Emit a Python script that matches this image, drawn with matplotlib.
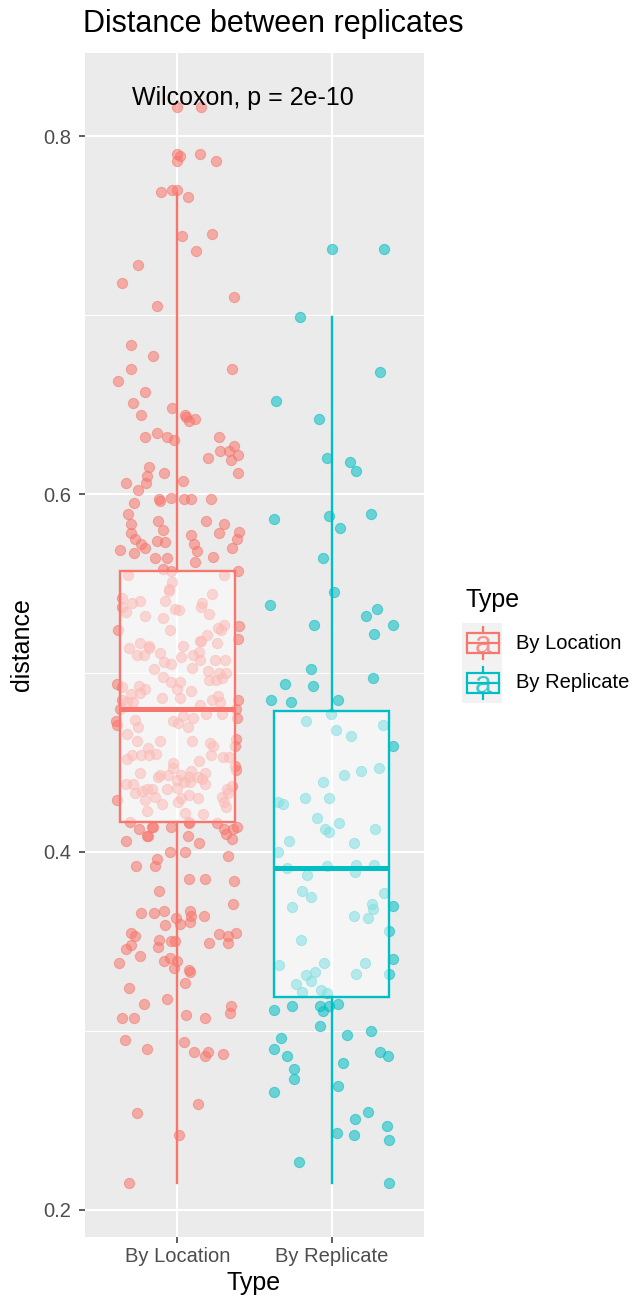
import matplotlib
matplotlib.use('Agg')
import matplotlib.pyplot as plt
from matplotlib.patches import Rectangle

plt.rcParams['font.family'] = ['Liberation Sans', 'DejaVu Sans']

W, H = 633, 1301

types = ['By Location', 'By Replicate']
colors = ['#F8766D', '#00BFC4']
p_label = 'Wilcoxon, p = 2e-10'

# jittered points (x = jittered category position)
loc_x = [
    1.00, 1.155, 1.00, 1.015, 0.995, 1.146, 1.247, 0.890, 0.963, 1.00, 1.066, 1.028, 1.224, 1.118, 0.742, 0.639, 1.370, 0.869,
    0.699, 0.839, 0.699, 1.355, 0.613, 0.792, 0.712, 0.963, 1.052, 1.058, 1.075, 1.114, 0.761, 0.792, 0.866, 0.934, 0.979, 1.269, 1.370, 1.273, 1.334, 1.392, 1.195,
    1.350, 1.394, 0.815, 0.805, 0.912, 0.665, 0.795, 1.037, 0.744, 0.718, 0.882, 0.886, 0.957, 1.043, 1.086, 1.219, 0.677, 0.873, 1.185,
    0.699, 0.905, 0.699, 0.725, 0.866, 0.916, 0.761, 0.789, 0.628, 0.716, 0.852, 0.935, 0.905, 0.961, 1.305, 1.398, 1.385, 1.271, 1.090, 1.108, 1.129, 1.357, 1.232, 1.116, 1.392,
    0.677, 1.305, 0.963, 0.942, 0.946, 1.226, 0.643, 0.639, 0.663, 0.708, 0.759, 0.916, 1.157, 1.153, 0.987, 1.011, 0.789, 0.903, 1.205, 0.617,
    0.953, 1.305, 1.263, 1.284, 1.398, 1.392, 1.194, 1.155, 1.144, 1.254, 0.759, 0.815, 0.817, 0.688, 0.735, 0.783, 0.886, 1.034, 1.026, 1.101,
    1.137, 1.148, 1.245, 1.308, 0.914, 0.959, 0.850, 1.095, 1.198, 1.271, 1.316, 0.905, 0.955, 1.017, 1.202, 1.247, 1.288, 0.605, 0.639, 0.748,
    0.792, 0.757, 0.998, 1.086, 0.697, 0.897, 1.017, 0.637, 0.673, 0.714, 1.226, 1.265, 1.279, 1.392, 0.628, 1.144, 1.383,
    0.602, 0.606, 0.725, 0.746, 0.970, 1.005, 1.034, 1.101, 1.183, 1.290, 1.385, 1.069, 0.673, 0.737, 0.888, 1.097, 1.208, 1.232, 1.383, 1.376,
    0.808, 0.858, 0.703, 0.673, 0.761, 0.815, 1.140, 1.215, 1.295, 1.337, 0.968, 0.974, 1.374, 1.381, 0.759, 0.886, 0.875, 0.940, 1.021, 1.086,
    1.073, 1.181, 1.135, 1.159, 1.181, 0.998, 1.043, 1.082, 0.663, 0.712, 0.995, 0.935, 1.353, 1.323, 1.331, 0.725, 0.768, 0.800, 0.832, 0.854,
    0.789, 1.077, 1.134, 1.026, 1.005, 0.606, 1.288, 1.305, 1.318, 0.899, 0.802, 1.050, 1.166, 0.695,
    0.750, 0.832, 0.843, 0.811, 0.800, 0.955, 1.077, 1.075, 1.254, 1.305, 1.316, 1.359, 1.387, 1.353, 0.666, 1.066, 1.140, 0.950, 1.050, 1.325,
    0.866, 0.854, 0.734, 1.075, 1.179, 1.370, 0.879, 1.361, 0.766, 0.845, 0.914, 1.079, 1.090, 1.082, 1.170, 0.992, 1.019, 0.918, 0.701, 0.723,
    1.269, 1.327, 1.381, 0.665, 0.701, 0.757, 0.621, 0.877, 0.873, 0.955, 0.985, 0.910, 0.953, 1.000, 0.979, 1.075, 1.079, 1.202, 1.327, 1.050,
    0.688, 0.935, 0.785, 1.348, 1.344, 0.639, 0.721, 1.054, 1.181, 0.660, 0.800, 1.041, 1.110, 1.181, 1.200, 1.295, 1.135, 0.737, 1.013, 0.684,
]
loc_y = [
    0.816, 0.816, 0.790, 0.789, 0.786, 0.790, 0.786, 0.769, 0.770, 0.770, 0.766, 0.744, 0.745, 0.736, 0.728, 0.718, 0.710, 0.705,
    0.683, 0.677, 0.670, 0.670, 0.663, 0.657, 0.651, 0.648, 0.644, 0.643, 0.641, 0.642, 0.644, 0.632, 0.634, 0.632, 0.630, 0.632, 0.627, 0.624, 0.624, 0.622, 0.620,
    0.619, 0.612, 0.615, 0.610, 0.612, 0.606, 0.606, 0.607, 0.602, 0.595, 0.597, 0.596, 0.598, 0.597, 0.597, 0.597, 0.589, 0.585, 0.585,
    0.583, 0.580, 0.578, 0.575, 0.574, 0.573, 0.572, 0.570, 0.569, 0.567, 0.564, 0.564, 0.558, 0.557, 0.583, 0.579, 0.575, 0.578, 0.577, 0.572, 0.568, 0.570, 0.565, 0.562, 0.557,
    0.555, 0.555, 0.551, 0.547, 0.546, 0.544, 0.542, 0.537, 0.534, 0.539, 0.540, 0.540, 0.539, 0.537, 0.536, 0.535, 0.532, 0.531, 0.533, 0.524,
    0.524, 0.527, 0.525, 0.524, 0.526, 0.519, 0.521, 0.518, 0.518, 0.517, 0.517, 0.515, 0.514, 0.514, 0.510, 0.510, 0.511, 0.515, 0.509, 0.510,
    0.512, 0.507, 0.507, 0.507, 0.506, 0.505, 0.502, 0.503, 0.501, 0.500, 0.500, 0.498, 0.495, 0.495, 0.496, 0.496, 0.497, 0.494, 0.492, 0.493,
    0.491, 0.489, 0.491, 0.490, 0.488, 0.486, 0.486, 0.485, 0.484, 0.484, 0.485, 0.487, 0.484, 0.485, 0.480, 0.482, 0.480,
    0.473, 0.471, 0.474, 0.470, 0.473, 0.472, 0.476, 0.475, 0.477, 0.477, 0.475, 0.470, 0.466, 0.462, 0.462, 0.462, 0.461, 0.459, 0.463, 0.459,
    0.458, 0.455, 0.454, 0.452, 0.454, 0.454, 0.451, 0.454, 0.453, 0.453, 0.450, 0.447, 0.448, 0.446, 0.444, 0.443, 0.442, 0.443, 0.443, 0.445,
    0.442, 0.444, 0.442, 0.441, 0.438, 0.440, 0.439, 0.439, 0.438, 0.438, 0.436, 0.435, 0.437, 0.435, 0.433, 0.433, 0.434, 0.435, 0.435, 0.431,
    0.429, 0.432, 0.430, 0.430, 0.428, 0.429, 0.431, 0.428, 0.425, 0.427, 0.423, 0.422, 0.421, 0.417,
    0.413, 0.414, 0.414, 0.409, 0.409, 0.414, 0.417, 0.416, 0.416, 0.413, 0.410, 0.413, 0.414, 0.407, 0.406, 0.409, 0.405, 0.400, 0.400, 0.398,
    0.396, 0.392, 0.392, 0.385, 0.385, 0.384, 0.378, 0.371, 0.366, 0.366, 0.367, 0.367, 0.364, 0.361, 0.364, 0.363, 0.360, 0.359, 0.355, 0.353,
    0.354, 0.353, 0.355, 0.346, 0.348, 0.342, 0.338, 0.351, 0.347, 0.350, 0.350, 0.339, 0.341, 0.339, 0.335, 0.334, 0.333, 0.349, 0.349, 0.327,
    0.324, 0.318, 0.315, 0.314, 0.310, 0.307, 0.307, 0.309, 0.307, 0.295, 0.290, 0.294, 0.288, 0.286, 0.288, 0.287, 0.259, 0.254, 0.242, 0.215,
]

rep_x = [
    2.002, 2.342, 1.795, 2.314, 1.641, 1.918, 1.968, 2.123, 2.157, 1.624,
    1.983, 2.258, 2.058, 1.946, 2.017, 1.600, 1.884, 2.297, 2.224, 2.402,
    2.277, 1.865, 1.697, 1.877, 2.269, 1.608, 1.735, 2.039, 1.998, 1.832,
    2.028, 2.127, 2.337, 2.402, 2.079, 2.189, 2.305, 1.944, 1.654, 1.686,
    1.828, 1.981, 1.908, 1.955, 1.983, 2.050, 2.284, 1.725, 2.144, 1.654,
    1.710, 1.970, 2.157, 2.150, 2.275, 1.839, 1.811, 1.865, 2.340, 1.744,
    2.265, 2.266, 2.234, 2.144, 2.400, 2.370, 1.800, 1.660, 1.950, 2.219,
    2.400, 2.161, 2.372, 1.834, 1.865, 1.890, 1.772, 1.811, 1.929, 1.968,
    1.624, 1.742, 1.927, 1.983, 2.045, 1.942, 1.927, 2.099, 2.256, 1.673,
    1.628, 1.708, 2.314, 2.366, 1.759, 2.075, 1.755, 1.624, 2.045, 2.239,
    2.150, 2.363, 2.037, 2.146, 2.372, 1.792, 2.376,
]
rep_y = [
    0.737, 0.737, 0.699, 0.668, 0.652, 0.642, 0.620, 0.618, 0.613, 0.586,
    0.588, 0.589, 0.581, 0.564, 0.545, 0.538, 0.527, 0.536, 0.532, 0.527,
    0.522, 0.502, 0.494, 0.493, 0.497, 0.485, 0.484, 0.485, 0.477, 0.473,
    0.468, 0.465, 0.471, 0.459, 0.443, 0.445, 0.447, 0.439, 0.428, 0.427,
    0.430, 0.430, 0.419, 0.413, 0.411, 0.416, 0.413, 0.406, 0.405, 0.400,
    0.391, 0.392, 0.393, 0.389, 0.393, 0.387, 0.378, 0.375, 0.377, 0.369,
    0.371, 0.368, 0.363, 0.364, 0.370, 0.356, 0.351, 0.337, 0.338, 0.338,
    0.340, 0.332, 0.332, 0.331, 0.328, 0.333, 0.326, 0.322, 0.323, 0.321,
    0.312, 0.314, 0.314, 0.314, 0.315, 0.311, 0.303, 0.298, 0.300, 0.296,
    0.290, 0.286, 0.288, 0.286, 0.279, 0.282, 0.273, 0.266, 0.269, 0.255,
    0.251, 0.247, 0.243, 0.242, 0.239, 0.227, 0.215,
]

# box statistics
box_q1 = [0.417, 0.319]
box_med = [0.480, 0.391]
box_q3 = [0.557, 0.479]
whis_lo = [0.215, 0.215]
whis_hi = [0.768, 0.699]


def fx(px):
    return px / W


def fy(py):
    return 1 - py / H


fig = plt.figure(figsize=(W / 100, H / 100), dpi=100)
ax = fig.add_axes([fx(85), fy(1237), (424 - 85) / W, (1237 - 53) / H])
ax.set_facecolor('#EBEBEB')
for s in ax.spines.values():
    s.set_visible(False)

ax.scatter(loc_x, loc_y, s=54, color=colors[0], alpha=0.55, linewidths=0.8,
           edgecolors=colors[0], zorder=2)
ax.scatter(rep_x, rep_y, s=54, color=colors[1], alpha=0.55, linewidths=0.8,
           edgecolors=colors[1], zorder=2)

stats = []
for i in range(2):
    stats.append(dict(med=box_med[i], q1=box_q1[i], q3=box_q3[i],
                      whislo=whis_lo[i], whishi=whis_hi[i], fliers=[], label=types[i]))
bp = ax.bxp(stats, positions=[1, 2], widths=0.75, patch_artist=True,
            showcaps=False, showfliers=False, manage_ticks=False, zorder=3)
for i, c in enumerate(colors):
    bp['boxes'][i].set(facecolor=(1, 1, 1, 0.5), edgecolor=c, linewidth=1.7, zorder=3)
    bp['medians'][i].set(color=c, linewidth=3.6, solid_capstyle='butt', zorder=4)
    for w in bp['whiskers'][2 * i:2 * i + 2]:
        w.set(color=c, linewidth=1.7, zorder=3)

ax.text(0.703, 0.821, p_label, fontsize=18, ha='left', va='center', zorder=5)

ax.set_xlim(0.4, 2.6)
ax.set_ylim(0.1849, 0.8464)
ax.set_xticks([1, 2])
ax.set_xticklabels(types)
ax.set_yticks([0.2, 0.4, 0.6, 0.8])
ax.set_yticklabels(['0.2', '0.4', '0.6', '0.8'])
ax.set_yticks([0.3, 0.5, 0.7], minor=True)
ax.set_axisbelow(True)
ax.grid(which='major', color='white', linewidth=1.5)
ax.grid(which='minor', axis='y', color='white', linewidth=0.75)
ax.tick_params(which='major', length=4, width=1.1, color='#333333',
               labelcolor='#4D4D4D', labelsize=14.5, pad=3)
ax.tick_params(axis='y', which='major', pad=6)
ax.tick_params(which='minor', length=0)

fig.text(fx(83), fy(24), 'Distance between replicates', fontsize=22,
         ha='left', va='center')
fig.text(fx(22), fy(645), 'distance', fontsize=18, rotation=90,
         ha='center', va='center')
fig.text(fx(254), fy(1283), 'Type', fontsize=18, ha='center', va='center')

# legend
fig.text(fx(465), fy(600), 'Type', fontsize=18, ha='left', va='center')
lax = fig.add_axes([fx(462), fy(703), 40 / W, 80 / H])
lax.set_xlim(0, 40)
lax.set_ylim(80, 0)
lax.axis('off')
for i, c in enumerate(colors):
    top = 40 * i
    lax.add_patch(Rectangle((0, top), 40, 40, facecolor='#F2F2F2', edgecolor='none'))
    lax.add_patch(Rectangle((5, top + 10), 32, 20, facecolor='none', edgecolor=c, linewidth=1.6))
    lax.plot([5, 37], [top + 20, top + 20], color=c, linewidth=1.6)
    lax.plot([21, 21], [top + 4, top + 10], color=c, linewidth=1.6)
    lax.plot([21, 21], [top + 30, top + 36], color=c, linewidth=1.6)
    lax.text(21, top + 22, 'a', fontsize=22, color=c, alpha=0.75,
             ha='center', va='center')
    fig.text(fx(516), fy(643 + 40 * i), types[i], fontsize=14.5,
             ha='left', va='center')

fig.savefig('out.png', dpi=100)
